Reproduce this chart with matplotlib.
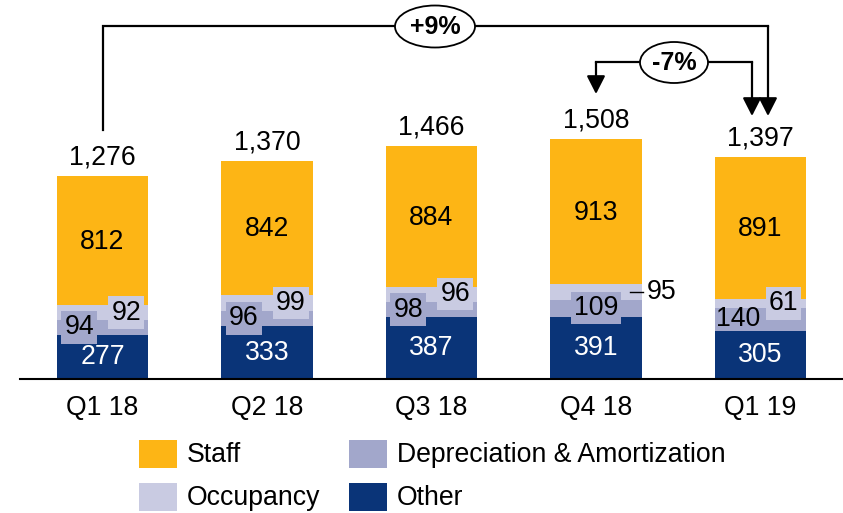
import numpy as np
import matplotlib
matplotlib.use('Agg')
import matplotlib.pyplot as plt
from matplotlib.patches import Ellipse, Rectangle

plt.rcParams['font.family'] = ['Liberation Sans', 'DejaVu Sans']

#------ donnees ------
quarters = ['Q1 18', 'Q2 18', 'Q3 18', 'Q4 18', 'Q1 19']
other = [277, 333, 387, 391, 305]
depreciation = [94, 96, 98, 109, 140]
occupancy = [92, 99, 96, 95, 61]
staff = [812, 842, 884, 913, 891]
totals = [1276, 1370, 1466, 1508, 1397]

series_names = ['Other', 'Depreciation & Amortization', 'Occupancy', 'Staff']
colors = ['#0A3478', '#A2A7CB', '#C9CBE2', '#FDB515']

yoy_label = '+9%'
qoq_label = '-7%'

#------ figure ------
W, H = 843, 513
fig = plt.figure(figsize=(W/100, H/100), dpi=100)
ax = fig.add_axes([0, 0, 1, 1])
ax.axis('off')

k = 0.159      # pixels par unite
base_px = 379  # ligne de base (pixels depuis le haut)
step = 164.5   # pixels entre barres
x0 = 102.5
ax.set_xlim(-x0/step, (W - x0)/step)
ax.set_ylim(-(H - base_px)/k, base_px/k)

def py(p):
    # pixel depuis le haut -> valeur y
    return (base_px - p)/k

def px(p):
    return (p - x0)/step

x = np.arange(len(quarters))
fs = 19.2
bw = 0.555

layers = [other, depreciation, occupancy, staff]
bottom = np.zeros(len(quarters))
mids = []
for vals, c, name in zip(layers, colors, series_names):
    vals = np.array(vals, dtype=float)
    ax.bar(x, vals, bw, bottom=bottom, color=c, linewidth=0, label=name)
    mids.append(bottom + vals/2)
    bottom = bottom + vals

# axe de base
ax.axhline(0, xmin=20/W, xmax=1, color='black', lw=1.5)

# libelles des trimestres
for i, q in enumerate(quarters):
    ax.text(i, py(408), q, ha='center', va='center', fontsize=fs)

# totaux
for i, t in enumerate(totals):
    ax.annotate('{:,}'.format(t), (i, t), xytext=(0, 13.5), textcoords='offset points',
                ha='center', va='center', fontsize=fs)

# valeurs dans les barres
box_da = dict(boxstyle='square,pad=0.12', fc=colors[1], ec='none')
box_occ = dict(boxstyle='square,pad=0.12', fc=colors[2], ec='none')
for i in range(len(quarters)):
    ax.text(i, mids[0][i], str(other[i]), ha='center', va='center', fontsize=fs, color='white')
    ax.text(i, mids[3][i] - 8, str(staff[i]), ha='center', va='center', fontsize=fs, color='black')
    if i == 3:
        ax.text(i, mids[1][i], str(depreciation[i]), ha='center', va='center', fontsize=fs, bbox=box_da)
        ax.plot([px(630), px(643)], [mids[2][i], mids[2][i]], color='black', lw=1)
        ax.text(px(647), mids[2][i], str(occupancy[i]), ha='left', va='center', fontsize=fs)
    elif i == 4:
        ax.text(i - 0.135, mids[1][i], str(depreciation[i]), ha='center', va='center', fontsize=fs)
        ax.text(i + 0.14, mids[2][i], str(occupancy[i]), ha='center', va='center', fontsize=fs,
                bbox=box_occ)
    else:
        ax.text(i - 0.14, mids[1][i], str(depreciation[i]), ha='center', va='center', fontsize=fs,
                bbox=box_da)
        ax.text(i + 0.145, mids[2][i], str(occupancy[i]), ha='center', va='center', fontsize=fs,
                bbox=box_occ)

# fleches de variation
arrow = dict(arrowstyle='-|>,head_width=0.56,head_length=1.1', mutation_scale=10,
             color='black', lw=1.6, shrinkA=0, shrinkB=0)
lw = 1.6
# +9% Q1 18 -> Q1 19
ax.plot([0, 0, px(768)], [py(130), py(26), py(26)], color='black', lw=lw, solid_joinstyle='miter')
ax.annotate('', xy=(px(768), py(116)), xytext=(px(768), py(26)), arrowprops=arrow)
ax.add_patch(Ellipse((px(435), py(26.5)), 80/step, 42/k, fc='white', ec='black', lw=1.3, zorder=5))
ax.text(px(435), py(27), yoy_label, ha='center', va='center', fontsize=18, fontweight='bold', zorder=6)

# -7% Q4 18 -> Q1 19
ax.plot([px(752), 3], [py(62), py(62)], color='black', lw=lw)
ax.annotate('', xy=(3, py(94)), xytext=(3, py(62)), arrowprops=arrow)
ax.annotate('', xy=(px(752), py(116)), xytext=(px(752), py(62)), arrowprops=arrow)
ax.add_patch(Ellipse((px(674), py(62.5)), 68/step, 41/k, fc='white', ec='black', lw=1.3, zorder=5))
ax.text(px(674), py(63), qoq_label, ha='center', va='center', fontsize=18, fontweight='bold', zorder=6)

# legende
leg_items = [('Staff', colors[3], 139, 454), ('Depreciation & Amortization', colors[1], 349, 454),
             ('Occupancy', colors[2], 139, 497), ('Other', colors[0], 349, 497)]
for name, c, lx, ly in leg_items:
    fig.patches.append(Rectangle((lx/W, 1 - (ly + 14)/H), 38/W, 28/H, fc=c, ec='none',
                                 transform=fig.transFigure, figure=fig))
    fig.text((lx + 48)/W, 1 - (ly + 1)/H, name, ha='left', va='center', fontsize=fs)

fig.savefig('out.png', dpi=100)
